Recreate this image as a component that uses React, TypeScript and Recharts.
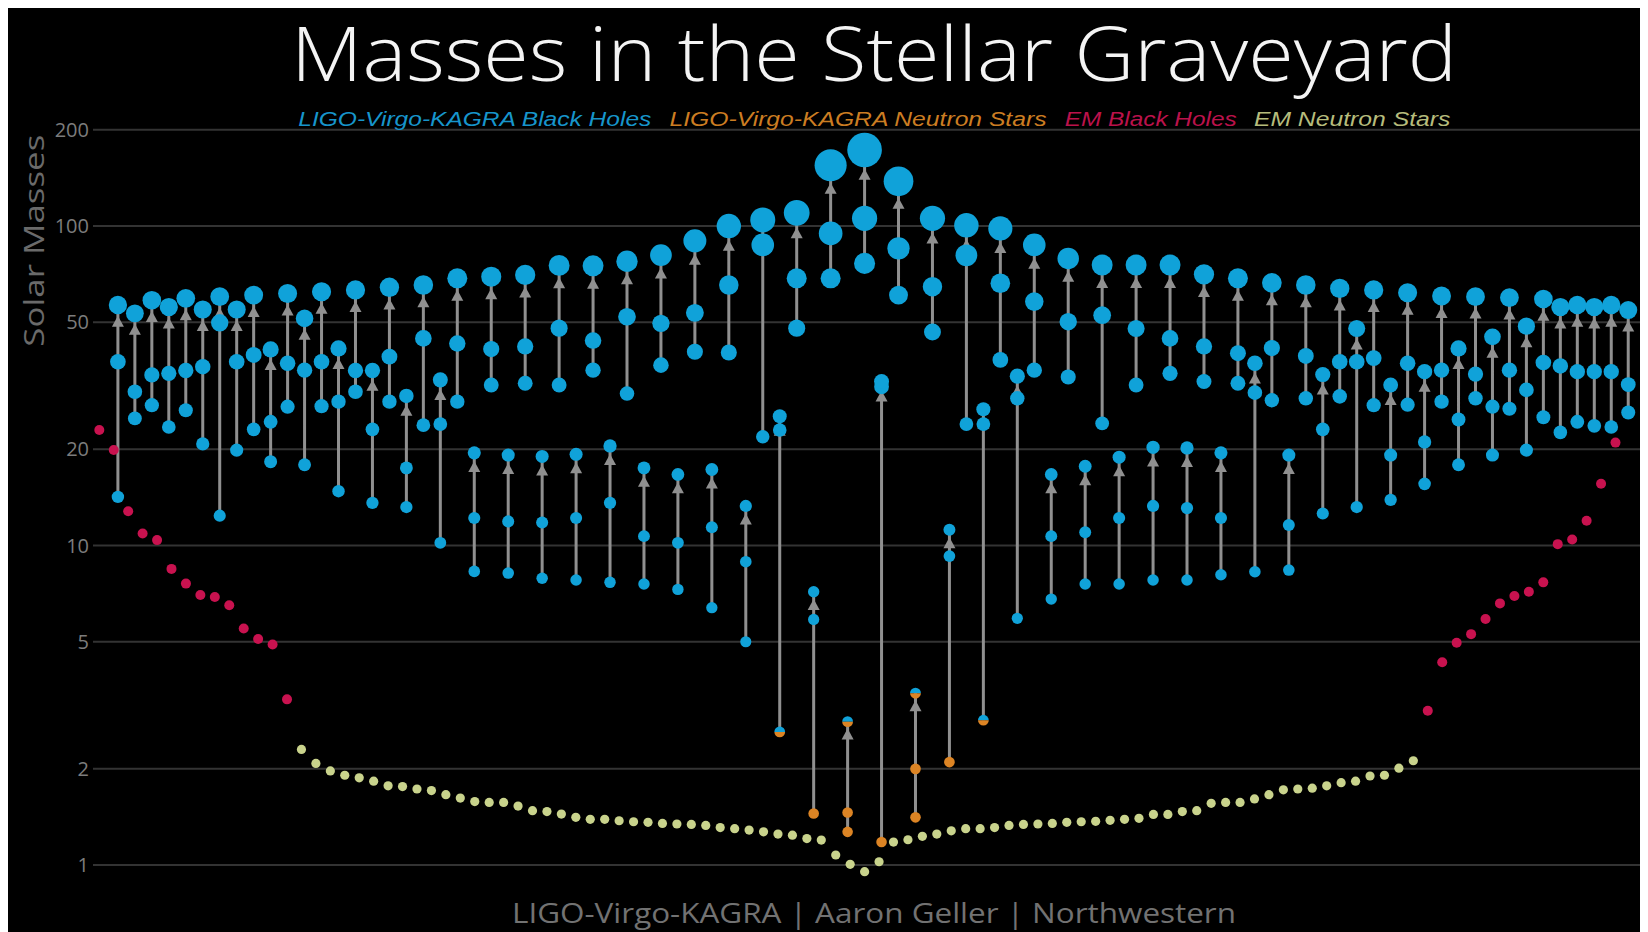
import React from 'react';
import { ComposedChart, Scatter, Line, XAxis, YAxis, ReferenceLine } from 'recharts';

// ---- data (solar masses) ----
// Gravitational-wave events, left to right: remnant (final) mass, primary and secondary masses
const gwFinal = [
  56.6, 53.3, 58.6, 55.8, 59.4, 54.8, 60.1, 54.8, 60.8, 41.1,
  61.5, 51.4, 62.3, 41.4, 63.1, 35.3, 64.3, 29.4, 65.4, 33,
  68.6, 19.5, 69.4, 19.2, 70.3, 19, 75.3, 19.3, 75.1, 20.5,
  77.6, 17.5, 81.1, 16.7, 89.9, 17.3, 100, 13.3, 104.5, 25.4,
  110, 7.17, 155, 2.81, 173, 32.6, 138, 3.45, 105.7, 11.2,
  100.5, 26.7, 98.3, 33.9, 87.3, 16.7, 79.2, 17.7, 75.5, 18.9,
  75.5, 20.3, 75.5, 20.2, 70.6, 19.5, 68.6, 37.2, 66.4, 19.2,
  65.4, 34.3, 63.8, 47.8, 63.1, 31.8, 61.8, 35, 60.4, 41.4,
  60.1, 45, 59.7, 48.6, 59.1, 55.8, 56.6, 55.8, 56.6, 54.6,
];
const gwPrimary = [
  37.6, 30.3, 34.2, 34.6, 35.3, 36.3, 49.8, 37.6, 39.5, 24.4,
  37.2, 35.4, 37.6, 28.2, 35.3, 23.1, 39, 17.5, 44.5, 24,
  42.9, 12.2, 41.2, 11.9, 42, 11.8, 47.9, 12.2, 43.8, 13.6,
  52, 10.7, 49.6, 10.2, 53.5, 11.4, 65.4, 8.9, 87.3, 23,
  68.6, 5.87, 94.8, 1.46, 105.7, 31.4, 85.1, 2.0, 64.6, 9.27,
  81, 24, 66.2, 28.9, 58, 10.7, 50.2, 11, 52.6, 12.2,
  47.8, 13.3, 44.5, 13.1, 42, 12.2, 40, 30.1, 41.5, 11.6,
  39.2, 23.1, 37.6, 37.6, 38.6, 19.2, 37.2, 21.1, 35.4, 24.8,
  34.4, 27.2, 35.4, 30.7, 37.4, 36.5, 35, 35, 35, 31.9,
];
const gwSecondary = [
  14.2, 25.0, 27.5, 23.5, 26.5, 20.8, 12.4, 19.9, 23.1, 18.3,
  27.2, 17.9, 27.3, 14.8, 30.3, 13.6, 28.2, 13.2, 23.8, 10.2,
  28.2, 8.3, 31.8, 8.2, 32.2, 7.9, 31.8, 7.8, 35.4, 7.67,
  29.9, 7.58, 36.7, 7.29, 40.4, 6.39, 40.2, 5.0, 21.9, 2.61,
  47.9, 1.45, 68.6, 1.27, 76.4, 1.18, 60.8, 1.41, 46.6, 2.1,
  24, 2.84, 38.1, 5.92, 35.4, 6.8, 33.7, 7.58, 24.1, 7.58,
  31.8, 7.8, 34.6, 7.8, 32.6, 8.1, 32.2, 8.28, 28.5, 8.38,
  28.9, 12.6, 29.3, 13.2, 27.5, 13.9, 27.6, 15.6, 28.2, 17.9,
  28.9, 19.2, 26.8, 19.9, 25.2, 22.6, 24.4, 23.7, 23.5, 26.1,
];
// objects that are neutron stars (NS) or uncertain, black hole or neutron star (MG); all others are black holes
const gwKinds: Record<number, { final?: string; primary?: string; secondary?: string }> = {
  39: { secondary: 'MG' },
  41: { secondary: 'NS' },
  43: { final: 'MG', primary: 'NS', secondary: 'NS' },
  45: { secondary: 'NS' },
  47: { final: 'MG', primary: 'NS', secondary: 'NS' },
  49: { secondary: 'NS' },
  51: { secondary: 'MG' },
};
// Electromagnetic observations, left to right
const emBlackHolesLeft = [23.0, 19.9, 12.8, 10.9, 10.4, 8.45, 7.6, 7.0, 6.9, 6.5, 5.5, 5.1, 4.9, 3.3];
const emNeutronStars = [
  2.30, 2.08, 1.97, 1.91, 1.875, 1.83, 1.77, 1.76, 1.73, 1.71, 1.66, 1.62, 1.58, 1.57, 1.57, 1.53, 1.48, 1.47,
  1.444, 1.41, 1.39, 1.39, 1.376, 1.366, 1.36, 1.35, 1.344, 1.34, 1.33, 1.31, 1.30, 1.287, 1.27, 1.25, 1.24,
  1.21, 1.197, 1.075, 1.005, 0.953, 1.024, 1.18, 1.20, 1.23, 1.25, 1.28, 1.30, 1.30, 1.31, 1.33, 1.34, 1.344,
  1.35, 1.36, 1.366, 1.37, 1.38, 1.39, 1.40, 1.44, 1.44, 1.47, 1.48, 1.56, 1.57, 1.57, 1.61, 1.66, 1.72, 1.73,
  1.74, 1.77, 1.81, 1.83, 1.90, 1.91, 2.01, 2.12,
];
const emBlackHolesRight = [3.04, 4.31, 4.96, 5.28, 5.89, 6.59, 6.95, 7.17, 7.67, 10.1, 10.45, 11.96, 15.6, 21.0];

const yTicks = [1, 2, 5, 10, 20, 50, 100, 200];
const legendLabels = [
  'LIGO-Virgo-KAGRA Black Holes',
  'LIGO-Virgo-KAGRA Neutron Stars',
  'EM Black Holes',
  'EM Neutron Stars',
];
const titleText = 'Masses in the Stellar Graveyard';
const yLabelText = 'Solar Masses';
const creditText = 'LIGO-Virgo-KAGRA | Aaron Geller | Northwestern';

// ---- styling ----
const C_BLUE = '#10a2d9';
const C_ORANGE = '#dc8424';
const C_RED = '#c8124f';
const C_YELLOW = '#c9d38c';
const C_ARROW = '#909090';
const legendColors = ['#1795cb', '#cc7d22', '#bb124b', '#b6bc7c'];
// overlay text placement, in page pixels
const legendX = [298.3, 669.5, 1064.7, 1253.9];
const legendLen = [353, 377, 172, 196.5];

const W = 1640;
const H = 924;
const PAGE_W = 1648;
const PAGE_H = 932;

// ---- tables built from the arrays ----
type Pt = { x: number; y: number | null; kind?: string };
const gwDots: Pt[] = [];
const gwFinals: Pt[] = [];
const arrowPath: Pt[] = [];
gwFinal.forEach((f, i) => {
  const k = gwKinds[i] || {};
  gwDots.push({ x: i, y: gwSecondary[i], kind: k.secondary || 'BH' });
  gwDots.push({ x: i, y: gwPrimary[i], kind: k.primary || 'BH' });
  gwFinals.push({ x: i, y: f, kind: k.final || 'BH' });
  arrowPath.push({ x: i, y: gwSecondary[i] }, { x: i, y: f }, { x: i, y: null });
});
const allGw = [...gwDots, ...gwFinals];
const gwBH = allGw.filter((p) => p.kind === 'BH');
const gwNS = allGw.filter((p) => p.kind === 'NS');
const gwMG = allGw.filter((p) => p.kind === 'MG');

const nL = emBlackHolesLeft.length;
const nN = emNeutronStars.length;
const emBH: Pt[] = [
  ...emBlackHolesLeft.map((v, j) => ({ x: j, y: v })),
  ...emBlackHolesRight.map((v, j) => ({ x: nL + nN + j, y: v })),
];
const emNS: Pt[] = emNeutronStars.map((v, j) => ({ x: nL + j, y: v }));

const dotR = (m: number) => 5.2 + 0.07 * m;

const BlueDot = (p: any) => <circle cx={p.cx} cy={p.cy} r={dotR(p.payload.y)} fill={C_BLUE} />;
const OrangeDot = (p: any) => <circle cx={p.cx} cy={p.cy} r={dotR(p.payload.y)} fill={C_ORANGE} />;
const SplitDot = (p: any) => {
  const r = dotR(p.payload.y);
  const { cx, cy } = p;
  return (
    <g>
      <path d={`M${cx - r},${cy} A${r},${r} 0 0 1 ${cx + r},${cy} Z`} fill={C_BLUE} />
      <path d={`M${cx - r},${cy} A${r},${r} 0 0 0 ${cx + r},${cy} Z`} fill={C_ORANGE} />
    </g>
  );
};
const RedDot = (p: any) => <circle cx={p.cx} cy={p.cy} r={5} fill={C_RED} />;
const YellowDot = (p: any) => <circle cx={p.cx} cy={p.cy} r={4.6} fill={C_YELLOW} />;
const ArrowHead = (p: any) => {
  const r = dotR(p.payload.y);
  const tip = p.cy + r + 1.5;
  return <polygon points={`${p.cx},${tip} ${p.cx - 6},${tip + 11} ${p.cx + 6},${tip + 11}`} fill={C_ARROW} />;
};

export default function App() {
  return (
    <div style={{ position: 'relative', width: W, height: H, background: '#000' }}>
      <style>{'html,body{overflow:hidden;}'}</style>
      <ComposedChart width={W} height={H} margin={{ top: 65.6, right: 0, bottom: 36, left: 0 }}>
        <XAxis xAxisId={0} type="number" dataKey="x" domain={[-1.4673, 90.165]} allowDataOverflow hide />
        <XAxis xAxisId="em" type="number" dataKey="x" domain={[-0.4363, 107.251]} allowDataOverflow hide />
        <YAxis
          dataKey="y"
          scale="log"
          domain={[0.8, 300]}
          allowDataOverflow
          ticks={yTicks}
          width={85}
          axisLine={false}
          tickLine={false}
          tickSize={0}
          tickMargin={4}
          tick={{ fill: '#7c7c7c', fontSize: 20, fontFamily: 'Open Sans' }}
        />
        {yTicks.map((t) => (
          <ReferenceLine key={t} y={t} stroke="#333333" strokeWidth={2} />
        ))}
        <Line
          data={arrowPath}
          dataKey="y"
          type="linear"
          stroke={C_ARROW}
          strokeWidth={3}
          dot={false}
          activeDot={false}
          connectNulls={false}
          isAnimationActive={false}
        />
        <Scatter data={gwFinals} dataKey="y" shape={ArrowHead} isAnimationActive={false} />
        <Scatter xAxisId="em" data={emBH} dataKey="y" shape={RedDot} isAnimationActive={false} />
        <Scatter xAxisId="em" data={emNS} dataKey="y" shape={YellowDot} isAnimationActive={false} />
        <Scatter data={gwBH} dataKey="y" shape={BlueDot} isAnimationActive={false} />
        <Scatter data={gwNS} dataKey="y" shape={OrangeDot} isAnimationActive={false} />
        <Scatter data={gwMG} dataKey="y" shape={SplitDot} isAnimationActive={false} />
      </ComposedChart>
      <svg
        width={PAGE_W}
        height={PAGE_H}
        style={{ position: 'absolute', left: -8, top: -8, pointerEvents: 'none', overflow: 'visible' }}
      >
        <text
          x={291}
          y={80.8}
          fill="#f4f4f4"
          fontFamily="Open Sans"
          fontWeight={350}
          fontSize={75}
          textLength={1166}
          lengthAdjust="spacingAndGlyphs"
        >
          {titleText}
        </text>
        {legendLabels.map((t, i) => (
          <text
            key={t}
            x={legendX[i]}
            y={125.7}
            fill={legendColors[i]}
            fontFamily="Liberation Sans"
            fontStyle="italic"
            fontSize={20}
            textLength={legendLen[i]}
            lengthAdjust="spacingAndGlyphs"
          >
            {t}
          </text>
        ))}
        <text
          x={44}
          y={240.7}
          transform="rotate(-90 44 240.7)"
          textAnchor="middle"
          fill="#6a6a6a"
          fontFamily="Open Sans"
          fontSize={28}
          textLength={212}
          lengthAdjust="spacingAndGlyphs"
        >
          {yLabelText}
        </text>
        <text
          x={512}
          y={923.3}
          fill="#727272"
          fontFamily="Open Sans"
          fontSize={28}
          textLength={724}
          lengthAdjust="spacingAndGlyphs"
        >
          {creditText}
        </text>
      </svg>
    </div>
  );
}
